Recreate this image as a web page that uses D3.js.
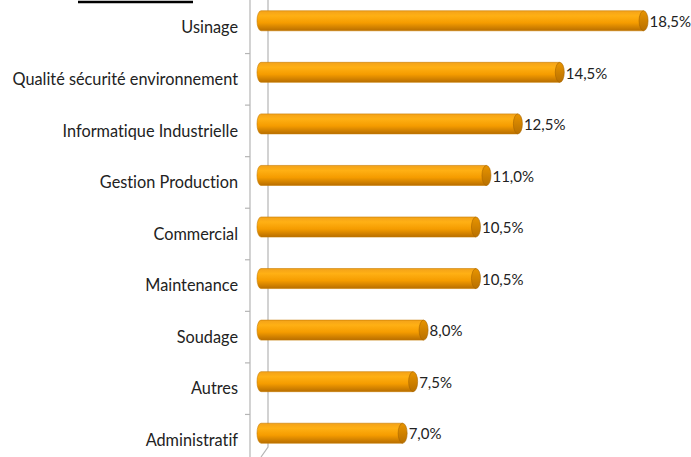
<!DOCTYPE html>
<html>
<head>
<meta charset="utf-8">
<script src="https://cdn.jsdelivr.net/npm/d3@7"></script>
<style>
  body { margin: 0; background: #fff; }
  svg { display: block; }
  text { font-family: Lato, "Open Sans", sans-serif; font-variant-ligatures: none; }
</style>
</head>
<body>
<svg id="chart"></svg>
<script>
const WIDTH = 691;
const HEIGHT = 457;

// data
const categories = [
  "Usinage",
  "Qualité sécurité environnement",
  "Informatique Industrielle",
  "Gestion Production",
  "Commercial",
  "Maintenance",
  "Soudage",
  "Autres",
  "Administratif"
];
const values = [18.5, 14.5, 12.5, 11.0, 10.5, 10.5, 8.0, 7.5, 7.0];

const data = categories.map((c, i) => ({ name: c, value: values[i] }));

const BAR_LEFT = 257;
const BAR_H = 20;
const DEPTH = 7; // small 3d offset for labels / ticks

const svg = d3.select('#chart').attr('width', WIDTH).attr('height', HEIGHT);

const x = d3.scaleLinear().domain([0, 20]).range([260, 679]);
const y = d3.scaleBand().domain(categories).range([-5, 459]).paddingInner(0);

const fmt = v => d3.format('.1f')(v).replace('.', ',') + '%';

// gradient for the cylinders
const defs = svg.append('defs');
const grad = defs.append('linearGradient').attr('id', 'cyl').attr('x1', 0).attr('y1', 0).attr('x2', 0).attr('y2', 1);
grad.append('stop').attr('offset', '0%').attr('stop-color', '#f3a21a');
grad.append('stop').attr('offset', '25%').attr('stop-color', '#ffb014');
grad.append('stop').attr('offset', '60%').attr('stop-color', '#f59c00');
grad.append('stop').attr('offset', '100%').attr('stop-color', '#b86e00');

const capGrad = defs.append('linearGradient').attr('id', 'cap').attr('x1', 0).attr('y1', 0).attr('x2', 0).attr('y2', 1);
capGrad.append('stop').attr('offset', '0%').attr('stop-color', '#e89400');
capGrad.append('stop').attr('offset', '100%').attr('stop-color', '#b87000');

// title underline (title itself is cropped off)
svg.append('line')
  .attr('x1', 78).attr('x2', 193).attr('y1', 2).attr('y2', 2)
  .attr('stroke', '#000').attr('stroke-width', 2.5);

// 3d wall lines
const wall = svg.append('g').attr('stroke', '#b5b5b5').attr('fill', 'none').attr('stroke-width', 1.2);
wall.append('line').attr('x1', 250).attr('x2', 250).attr('y1', 0).attr('y2', HEIGHT);
wall.append('path').attr('d', `M268,0 L268,447 L261,${HEIGHT}`);

// category ticks
wall.selectAll('.tick')
  .data(categories.slice(1))
  .join('line')
  .attr('x1', 245).attr('x2', 250)
  .attr('y1', d => y(d) + DEPTH)
  .attr('y2', d => y(d) + DEPTH);

// bars
const bars = svg.selectAll('.bar')
  .data(data)
  .join('g')
  .attr('class', 'bar')
  .attr('transform', d => `translate(0, ${y(d.name) + y.bandwidth() / 2 - BAR_H / 2})`);

bars.append('path')
  .attr('fill', 'url(#cyl)')
  .attr('stroke', '#c77c00')
  .attr('stroke-width', 0.6)
  .attr('d', d => {
    const x1 = x(d.value) - 4;
    return `M${BAR_LEFT + 4},0 L${x1},0 L${x1},${BAR_H} L${BAR_LEFT + 4},${BAR_H} A4,${BAR_H / 2} 0 0 1 ${BAR_LEFT + 4},0 Z`;
  });

bars.append('ellipse')
  .attr('cx', d => x(d.value) - 4)
  .attr('cy', BAR_H / 2)
  .attr('rx', 4.5)
  .attr('ry', BAR_H / 2)
  .attr('fill', 'url(#cap)')
  .attr('stroke', '#a86500')
  .attr('stroke-width', 0.6);

// value labels
bars.append('text')
  .attr('x', d => x(d.value) + 2)
  .attr('y', BAR_H / 2 + 1)
  .attr('dy', '0.35em')
  .attr('font-size', 15)
  .attr('fill', '#222')
  .text(d => fmt(d.value));

// category labels
svg.selectAll('.cat')
  .data(data)
  .join('text')
  .attr('class', 'cat')
  .attr('x', 238)
  .attr('y', d => y(d.name) + y.bandwidth() / 2 + DEPTH)
  .attr('dy', '0.35em')
  .attr('text-anchor', 'end')
  .attr('font-size', 16.3)
  .attr('fill', '#222')
  .text(d => d.name);
</script>
</body>
</html>
